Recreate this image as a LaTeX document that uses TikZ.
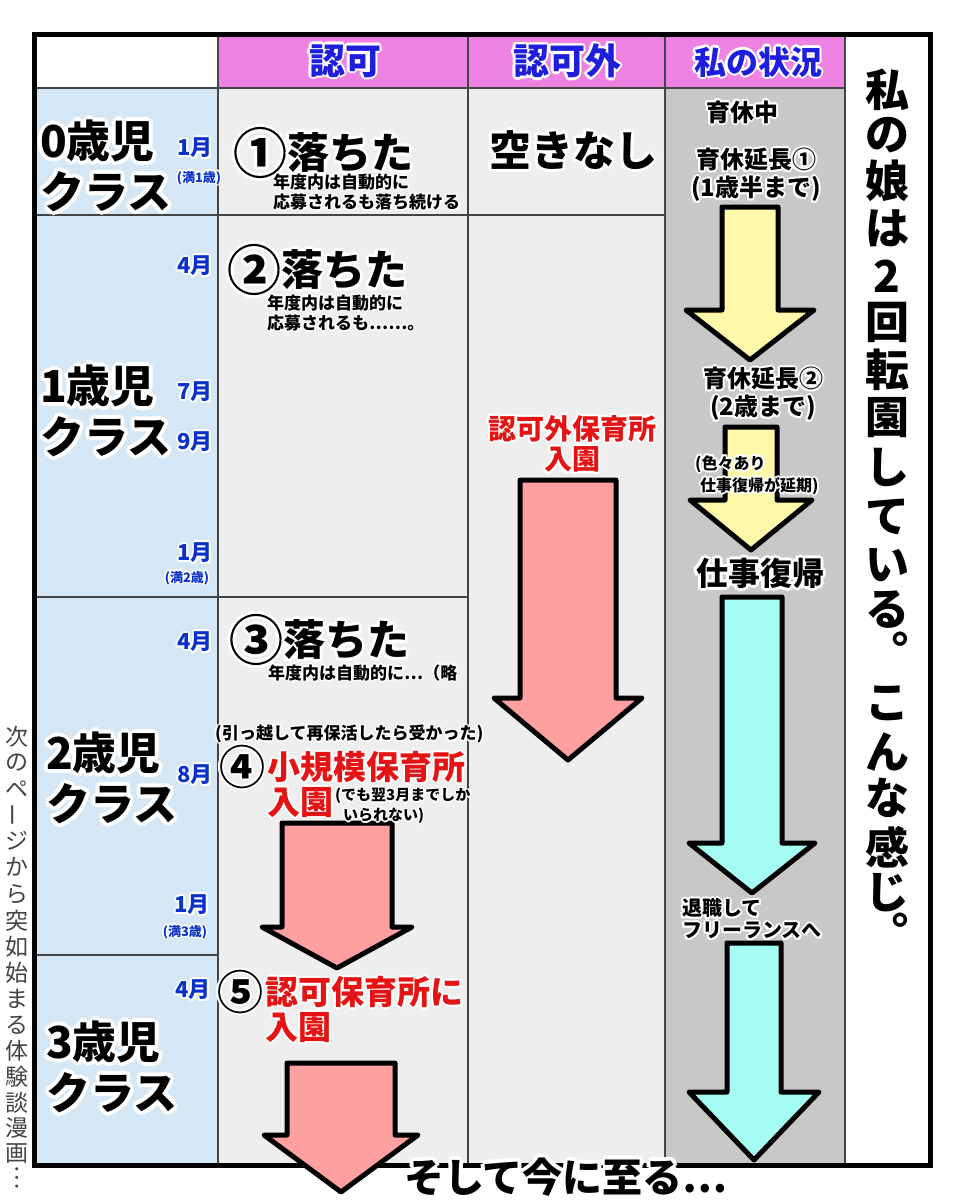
\documentclass[tikz,border=0pt]{standalone}
\usepackage{fontspec}
\setmainfont{Noto Sans CJK JP}
\usepackage{xcolor}
\usepackage{tikz}
\usetikzlibrary{positioning}

\definecolor{azulcl}{HTML}{D5E7F5}
\definecolor{cinzacl}{HTML}{EEEEEE}
\definecolor{cinzaesc}{HTML}{C8C8C8}
\definecolor{rosa}{HTML}{EE82E3}
\definecolor{azulcab}{HTML}{1E1EDC}
\definecolor{azulmes}{HTML}{0A32C8}
\definecolor{vermelho}{HTML}{E41414}
\definecolor{amarelo}{HTML}{FFF8AA}
\definecolor{ciano}{HTML}{A4FCF2}
\definecolor{salmao}{HTML}{FFA0A0}
\definecolor{linha}{HTML}{444444}

% contorno branco em volta do texto
\newdimen\contlw
\newcommand\contdesl[3]{\rlap{\kern#1\raisebox{#2}{\textcolor{white}{#3}}}}
\newcommand\contorno[2][2pt]{{\leavevmode\contlw=#1\relax
  \contdesl{\contlw}{0pt}{#2}\contdesl{-\contlw}{0pt}{#2}%
  \contdesl{0pt}{\contlw}{#2}\contdesl{0pt}{-\contlw}{#2}%
  \contdesl{.7\contlw}{.7\contlw}{#2}\contdesl{-.7\contlw}{.7\contlw}{#2}%
  \contdesl{.7\contlw}{-.7\contlw}{#2}\contdesl{-.7\contlw}{-.7\contlw}{#2}%
  #2}}

\begin{document}
\begin{tikzpicture}[x=1pt, y=-1pt,
  grade/.style={draw=linha, line width=2.5pt},
  seta/.style={draw=black, line width=5pt, line join=round},
  cab/.style={text=azulcab, font=\fontsize{36}{38}\selectfont\bfseries, inner sep=0pt},
  classe/.style={font=\fontsize{44}{41}\selectfont\bfseries, align=left, anchor=west, inner sep=0pt},
  mes/.style={text=azulmes, font=\fontsize{22}{24}\selectfont\bfseries, anchor=east, inner sep=0pt},
  idade/.style={text=azulmes, font=\fontsize{13}{14}\selectfont\bfseries, inner sep=0pt},
  caiu/.style={font=\fontsize{42}{44}\selectfont\bfseries, anchor=west, inner sep=0pt},
  nota/.style={font=\fontsize{17}{17}\selectfont\bfseries, align=left, anchor=west, inner sep=0pt},
  circ/.style={font=\fontsize{54}{54}\selectfont\bfseries, anchor=west, inner sep=0pt},
  vermtxt/.style={text=vermelho, font=\fontsize{33}{35}\selectfont\bfseries, inner sep=0pt},
  sit/.style={font=\fontsize{24}{24}\selectfont\bfseries, align=center, inner sep=0pt},
  vert/.style={font=\fontsize{44}{44}\selectfont\bfseries, inner sep=0pt},
  lateral/.style={text=linha, font=\fontsize{23}{23}\selectfont, inner sep=0pt}]
  \useasboundingbox (0,0) rectangle (960,1200);
  % fundos
  \fill[white] (0,0) rectangle (960,1200);
  \fill[rosa] (218,34) rectangle (845,88);
  \fill[azulcl] (34,88) rectangle (218,1165);
  \fill[cinzacl] (218,88) rectangle (665,1165);
  \fill[cinzaesc] (665,88) rectangle (845,1165);
  % linhas da tabela
  \draw[grade] (34,88) -- (845,88);
  \draw[grade] (34,215) -- (665,215);
  \draw[grade] (34,597) -- (468,597);
  \draw[grade] (34,955) -- (218,955);
  \foreach \x in {218,468,665,845}
    \draw[grade] (\x,34) -- (\x,1165);
  \draw[line width=5pt] (34,34) rectangle (930,1165);

  % setas amarelas (licenca)
  \draw[seta, fill=amarelo] (722,207) -- (778,207) -- (778,310) -- (814,310)
    -- (750,360) -- (686,310) -- (722,310) -- cycle;
  \draw[seta, fill=amarelo] (725,427) -- (777,427) -- (777,500) -- (812,500)
    -- (751,550) -- (690,500) -- (725,500) -- cycle;
  % setas ciano (trabalho)
  \draw[seta, fill=ciano] (722,597) -- (782,597) -- (782,843) -- (815,843)
    -- (752,893) -- (689,843) -- (722,843) -- cycle;
  \draw[seta, fill=ciano] (727,943) -- (781,943) -- (781,1092) -- (819,1092)
    -- (754,1160) -- (689,1092) -- (727,1092) -- cycle;
  % setas vermelhas (creches)
  \draw[seta, fill=salmao] (520,480) -- (616,480) -- (616,698) -- (642,698)
    -- (568,760) -- (494,698) -- (520,698) -- cycle;
  \draw[seta, fill=salmao] (282,823) -- (392,823) -- (392,927) -- (412,927)
    -- (337,968) -- (262,927) -- (282,927) -- cycle;
  \draw[seta, fill=salmao] (287,1063) -- (395,1063) -- (395,1135) -- (418,1135)
    -- (341,1192) -- (264,1135) -- (287,1135) -- cycle;

  % cabecalho
  \node[cab] (cabA) at (345,61) {\contorno[2.5pt]{認可}};
  \node[cab] (cabB) at (567,61) {\contorno[2.5pt]{認可外}};
  \node[cab, font=\fontsize{32}{34}\selectfont\bfseries] (cabC) at (758,62) {\contorno[2.5pt]{私の状況}};

  % classes
  \node[classe] (cl0) at (40,166) {\contorno[4pt]{0歳児}\\\contorno[4pt]{クラス}};
  \node[classe] (cl1) at (40,411) {\contorno[4pt]{1歳児}\\\contorno[4pt]{クラス}};
  \node[classe] (cl2) at (46,778) {\contorno[4pt]{2歳児}\\\contorno[4pt]{クラス}};
  \node[classe] (cl3) at (46,1067) {\contorno[4pt]{3歳児}\\\contorno[4pt]{クラス}};

  % meses
  \node[mes] (mA) at (213,148) {\contorno{1月}};
  \node[idade] (idA) at (199,178) {\contorno[1.5pt]{(満1歳)}};
  \node[mes] (mB) at (213,266) {\contorno{4月}};
  \node[mes] (mC) at (213,392) {\contorno{7月}};
  \node[mes] (mD) at (213,442) {\contorno{9月}};
  \node[mes] (mE) at (213,553) {\contorno{1月}};
  \node[idade] (idB) at (187,578) {\contorno[1.5pt]{(満2歳)}};
  \node[mes] (mF) at (213,642) {\contorno{4月}};
  \node[mes] (mG) at (213,775) {\contorno{8月}};
  \node[mes] (mH) at (210,905) {\contorno{1月}};
  \node[idade] (idC) at (185,932) {\contorno[1.5pt]{(満3歳)}};
  \node[mes] (mI) at (211,990) {\contorno{4月}};

  % coluna ninka
  \node[circ] (num1) at (233,153) {\contorno[3pt]{①}};
  \node[caiu, right=0pt of num1] (ochi1) {\contorno[3pt]{落ちた}};
  \node[nota] (nota1) at (273,192) {\contorno[1.5pt]{年度内は自動的に}\\\contorno[1.5pt]{応募されるも落ち続ける}};
  \node[circ] (num2) at (227,270) {\contorno[3pt]{②}};
  \node[caiu, right=0pt of num2] (ochi2) {\contorno[3pt]{落ちた}};
  \node[nota] (nota2) at (267,313) {\contorno[1.5pt]{年度内は自動的に}\\\contorno[1.5pt]{応募されるも⋯⋯。}};
  \node[circ] (num3) at (229,640) {\contorno[3pt]{③}};
  \node[caiu, right=0pt of num3] (ochi3) {\contorno[3pt]{落ちた}};
  \node[nota] (nota3) at (268,673) {\contorno[1.5pt]{年度内は自動的に⋯（略}};
  \node[nota] (hikkoshi) at (215,734) {\contorno[1.5pt]{(引っ越して再保活したら受かった)}};
  \node[circ, font=\fontsize{46}{46}\selectfont\bfseries] (num4) at (219,767) {\contorno{④}};
  \node[vermtxt, right=2pt of num4] (shoki) {\contorno{小規模保育所}};
  \node[vermtxt, anchor=north west] (nyu4) at (shoki.south west) {\contorno{入園}};
  \node[nota, font=\fontsize{15}{16}\selectfont\bfseries] (demo) at (335,806)
    {\contorno[1.5pt]{(でも翌3月までしか}\\\hspace{8pt}\contorno[1.5pt]{いられない)}};
  \node[circ, font=\fontsize{46}{46}\selectfont\bfseries] (num5) at (217,992) {\contorno{⑤}};
  \node[vermtxt, right=2pt of num5] (ninka5) {\contorno{認可保育所に}};
  \node[vermtxt, anchor=north west] (nyu5) at (ninka5.south west) {\contorno{入園}};

  % coluna ninkagai
  \node[caiu, anchor=center] (aki) at (573,150) {\contorno[3pt]{空きなし}};
  \node[vermtxt, font=\fontsize{28}{28}\selectfont\bfseries, align=center] (gai)
    at (572,444) {\contorno{認可外保育所}\\\contorno{入園}};

  % minha situacao
  \node[sit] (ikukyu) at (742,112) {\contorno{育休中}};
  \node[sit] (ench1) at (756,175) {\contorno{育休延長①}\\\contorno{(1歳半まで)}};
  \node[sit] (ench2) at (763,394) {\contorno{育休延長②}\\\contorno{(2歳まで)}};
  \node[nota, font=\fontsize{16}{16}\selectfont\bfseries] (iroiro) at (695,475)
    {\contorno[2pt]{(色々あり}\\\hspace{5pt}\contorno[2pt]{仕事復帰が延期)}};
  \node[sit, font=\fontsize{32}{32}\selectfont\bfseries] (fukki) at (760,573) {\contorno[3pt]{仕事復帰}};
  \node[nota, font=\fontsize{20}{22}\selectfont\bfseries] (taisho) at (682,919)
    {\contorno{退職して}\\\contorno{フリーランスへ}};

  % texto vertical da direita
  \foreach \ch/\yy [count=\i] in {私/90, の/135, 娘/181, は/228, 2/276, 回/322,
      転/370, 園/418, し/467, て/517, い/565, る/610, ︒/650,
      こ/703, ん/752, な/798, 感/847, じ/893, ︒/931}
    \node[vert] (dir\i) at (887,\yy) {\ch};

  % texto vertical da esquerda
  \foreach \ch/\yy [count=\i] in {次/737, の/763, ペ/789, ジ/841, か/867, ら/894,
      突/921, 如/947, 始/973, ま/999, る/1025, 体/1051, 験/1077, 談/1103,
      漫/1128, 画/1153}
    \node[lateral] (esq\i) at (17,\yy) {\ch};
  \node[lateral, rotate=90] (esqbarra) at (17,815) {ー};
  \node[lateral, rotate=90] (esqfim) at (17,1178) {⋯};

  % final
  \node[font=\fontsize{40}{40}\selectfont\bfseries, inner sep=0pt] (fim)
    at (566,1177) {\contorno[4pt]{そして今に至る⋯}};
\end{tikzpicture}
\end{document}
